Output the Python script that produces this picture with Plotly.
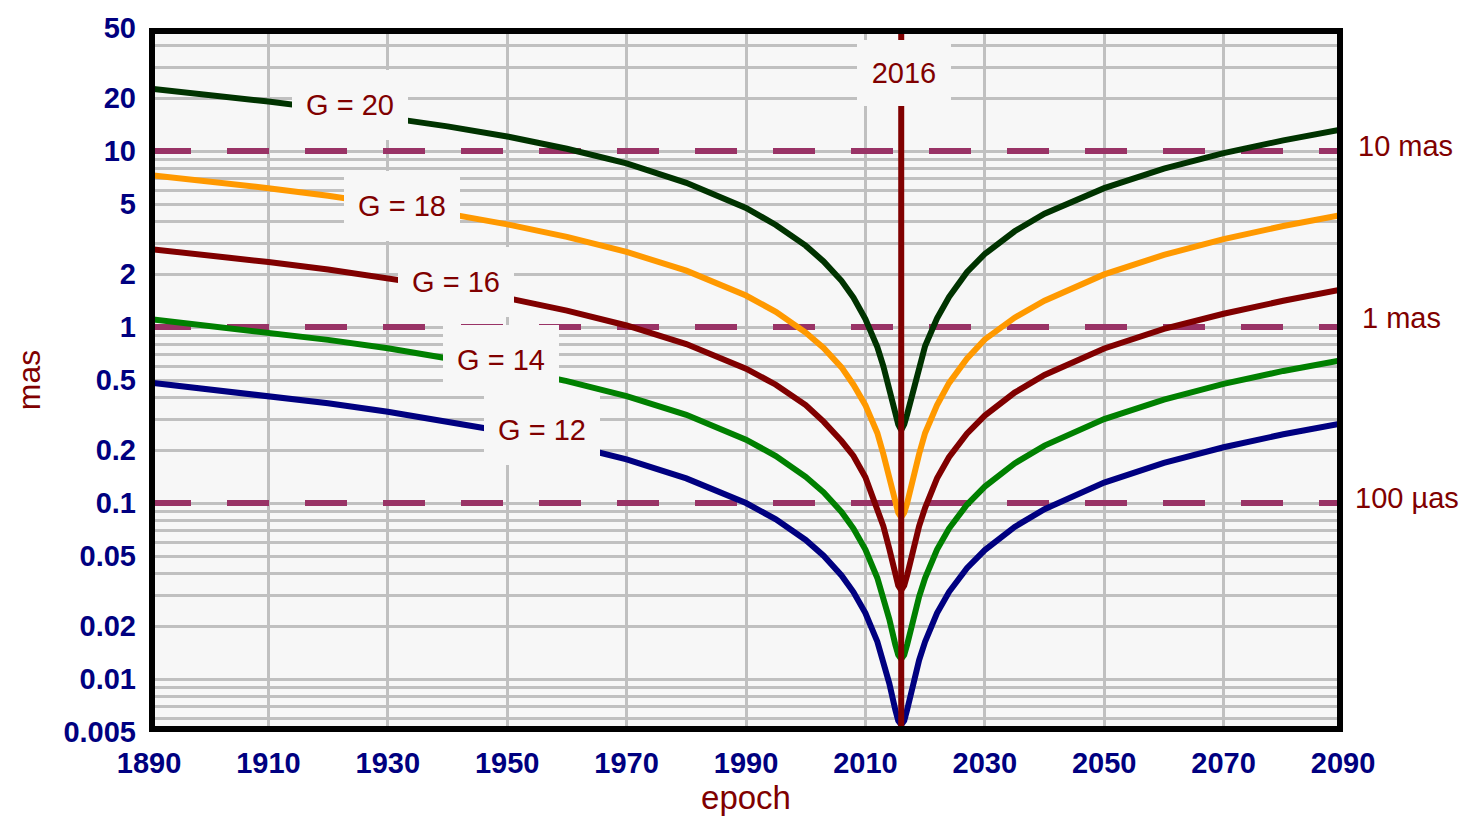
import plotly.graph_objects as go
import math

# ---------------- data ----------------
epochs = [1890, 1900, 1910, 1920, 1930, 1940, 1950, 1960, 1970, 1980, 1990,
          1995, 2000, 2003, 2006, 2008, 2010, 2012, 2013, 2014, 2015, 2015.5,
          2016, 2016.5, 2017, 2018, 2019, 2020, 2022, 2024, 2027, 2030, 2035,
          2040, 2050, 2060, 2070, 2080, 2090]

g20 = [22.7, 20.9, 19.1, 17.3, 15.5, 13.8, 12.1, 10.3, 8.5, 6.6, 4.75,
       3.8, 2.9, 2.36, 1.83, 1.47, 1.11, 0.77, 0.60, 0.44, 0.32, 0.28,
       0.26, 0.28, 0.32, 0.44, 0.60, 0.78, 1.12, 1.48, 2.05, 2.6, 3.5,
       4.4, 6.15, 7.95, 9.72, 11.5, 13.3]

g18 = [7.31, 6.73, 6.15, 5.57, 4.99, 4.41, 3.83, 3.25, 2.67, 2.09, 1.51,
       1.22, 0.93, 0.76, 0.59, 0.47, 0.36, 0.25, 0.19, 0.14, 0.10, 0.088,
       0.083, 0.088, 0.10, 0.14, 0.19, 0.25, 0.36, 0.48, 0.66, 0.85, 1.13,
       1.41, 1.99, 2.57, 3.16, 3.75, 4.35]

g16 = [2.78, 2.56, 2.34, 2.12, 1.90, 1.68, 1.46, 1.24, 1.02, 0.80, 0.58,
       0.47, 0.36, 0.29, 0.225, 0.185, 0.14, 0.094, 0.074, 0.055, 0.039, 0.034,
       0.032, 0.034, 0.039, 0.055, 0.074, 0.094, 0.138, 0.182, 0.248, 0.314, 0.424,
       0.534, 0.755, 0.975, 1.19, 1.41, 1.64]

g14 = [1.11, 1.02, 0.93, 0.845, 0.757, 0.669, 0.581, 0.493, 0.405, 0.317, 0.229,
       0.185, 0.141, 0.115, 0.089, 0.0716, 0.0544, 0.0375, 0.0294, 0.0219, 0.0157, 0.0137,
       0.013, 0.0137, 0.0157, 0.0219, 0.0294, 0.0375, 0.0544, 0.0716, 0.0977, 0.124, 0.168,
       0.212, 0.300, 0.387, 0.475, 0.563, 0.651]

g12 = [0.484, 0.445, 0.407, 0.369, 0.330, 0.292, 0.2535, 0.215, 0.177, 0.138, 0.100,
       0.0808, 0.0617, 0.0502, 0.0388, 0.0312, 0.0237, 0.0163, 0.0128, 0.00945, 0.0067, 0.0058,
       0.0055, 0.0058, 0.0067, 0.00945, 0.0128, 0.0163, 0.0237, 0.0312, 0.0426, 0.054, 0.0732,
       0.0923, 0.1306, 0.169, 0.2074, 0.2458, 0.2842]

series_names = ["G = 20", "G = 18", "G = 16", "G = 14", "G = 12"]
series_values = [g20, g18, g16, g14, g12]
series_colors = ["#003300", "#ff9900", "#800000", "#008000", "#000080"]

ref_epoch = 2016
ref_epoch_label = "2016"
ref_levels = [10, 1, 0.1]
ref_labels = ["10 mas", "1 mas", "100 µas"]

x_ticks = [1890, 1910, 1930, 1950, 1970, 1990, 2010, 2030, 2050, 2070, 2090]
y_labeled = [0.005, 0.01, 0.02, 0.05, 0.1, 0.2, 0.5, 1, 2, 5, 10, 20, 50]
y_labels = ["0.005", "0.01", "0.02", "0.05", "0.1", "0.2", "0.5", "1", "2", "5", "10", "20", "50"]
y_min, y_max = 0.005, 50

# ---------------- geometry helpers (pixel -> paper) ----------------
W, H = 1470, 819
L, R, T, B = 149, 1343, 20, 737        # data area (outer edge of the frame)
FRAME_W = 6


def px(xp):
    return (xp - L) / (R - L)


def py(yp):
    return 1 - (yp - T) / (B - T)


# all log grid positions (1..9 x decade)
grid_vals = []
for e in range(-3, 2):
    for m in range(1, 10):
        v = round(m * 10 ** e, 6)
        if y_min <= v <= y_max:
            grid_vals.append(v)
grid_text = []
for v in grid_vals:
    txt = ""
    for lv, lt in zip(y_labeled, y_labels):
        if abs(lv - v) < 1e-9:
            txt = lt
    grid_text.append(txt)

MAROON = "#800000"
NAVY = "#000080"
FONT = "Liberation Sans, Arial, sans-serif"

fig = go.Figure()

# reference dashed levels (below the curves)
for lv in ref_levels:
    fig.add_trace(go.Scatter(
        x=[x_ticks[0], x_ticks[-1]], y=[lv, lv], mode="lines",
        line=dict(color="#993366", width=6, dash="42px,36px"),
        hoverinfo="skip", showlegend=False))

for name, vals, col in zip(series_names, series_values, series_colors):
    fig.add_trace(go.Scatter(
        x=epochs, y=vals, mode="lines", name=name,
        line=dict(color=col, width=6), showlegend=False))

half = FRAME_W / 2
shapes = [
    dict(type="line", xref="x", yref="paper", x0=ref_epoch, x1=ref_epoch, y0=0, y1=1,
         line=dict(color=MAROON, width=6), layer="above"),
    dict(type="rect", xref="paper", yref="paper",
         x0=px(L + half), x1=px(R - half), y0=py(B - half), y1=py(T + half),
         line=dict(color="black", width=FRAME_W), layer="above"),
]

annotations = []
# curve labels (pixel centres of their boxes in the reference)
label_pos = [(350, 98), (402, 201), (456, 279), (501, 358), (542, 429)]
for name, (xp, yp) in zip(series_names, label_pos):
    annotations.append(dict(
        xref="paper", yref="paper", x=px(xp), y=py(yp), text=name,
        showarrow=False, font=dict(family=FONT, size=29, color=MAROON),
        bgcolor="#f7f7f7", width=116, height=70, borderpad=0, borderwidth=0,
        xanchor="center", yanchor="middle"))

annotations.append(dict(
    xref="paper", yref="paper", x=px(904), y=py(66), text=ref_epoch_label,
    showarrow=False, font=dict(family=FONT, size=29, color=MAROON),
    bgcolor="#f7f7f7", width=94, height=66, borderpad=0, borderwidth=0,
    xanchor="center", yanchor="middle"))

right_pos = [(1405, 140), (1401, 315), (1407, 499)]
for txt, (xp, yp) in zip(ref_labels, right_pos):
    annotations.append(dict(
        xref="paper", yref="paper", x=px(xp), y=py(yp), text=txt,
        showarrow=False, font=dict(family=FONT, size=29, color=MAROON),
        xanchor="center", yanchor="middle"))

fig.update_layout(
    width=W, height=H,
    margin=dict(l=L, r=W - R, t=T, b=H - B, pad=0),
    paper_bgcolor="white", plot_bgcolor="#f7f7f7",
    showlegend=False,
    shapes=shapes, annotations=annotations,
    xaxis=dict(
        range=[x_ticks[0], x_ticks[-1]], tickvals=x_ticks,
        ticktext=[str(t) for t in x_ticks],
        showgrid=True, gridcolor="#c0c0c0", gridwidth=3, zeroline=False,
        showline=False, ticks="", ticklabelstandoff=11,
        tickfont=dict(family=FONT, size=29, color=NAVY, weight="bold"),
        title=dict(text="epoch", font=dict(family=FONT, size=33, color=MAROON), standoff=5),
        fixedrange=True),
    yaxis=dict(
        type="log", range=[math.log10(y_min), math.log10(y_max)],
        tickvals=grid_vals, ticktext=grid_text,
        showgrid=True, gridcolor="#c0c0c0", gridwidth=3, zeroline=False,
        showline=False, ticks="", ticklabelstandoff=12,
        tickfont=dict(family=FONT, size=29, color=NAVY, weight="bold"),
        title=dict(text="mas", font=dict(family=FONT, size=32, color=MAROON), standoff=13),
        fixedrange=True),
)

fig.write_html("out.html")
